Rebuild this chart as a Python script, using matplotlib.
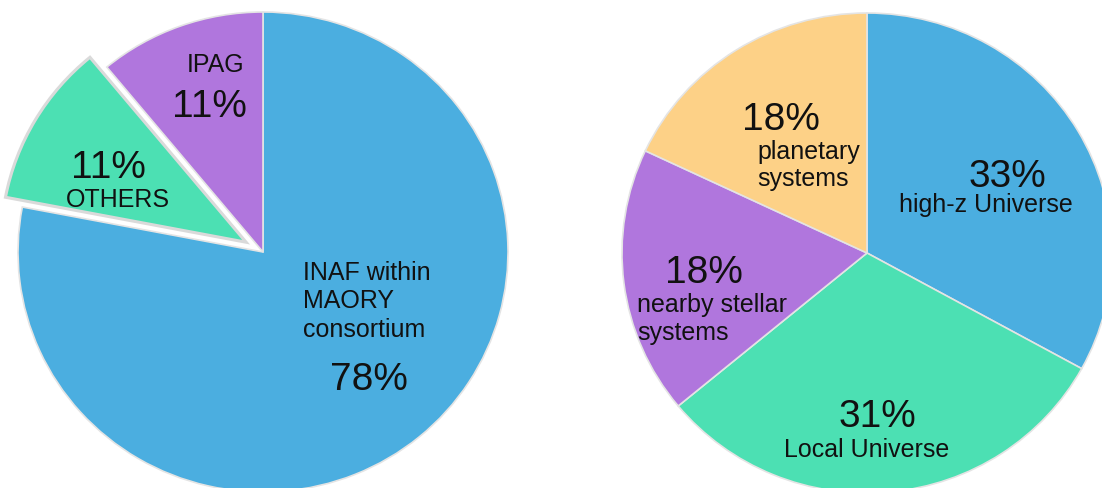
import matplotlib
matplotlib.use("Agg")
import matplotlib.pyplot as plt

# ---- data ----
left_labels = ["INAF within\nMAORY\nconsortium", "OTHERS", "IPAG"]
left_values = [78, 11, 11]
left_colors = ["#4BAEE0", "#4CE0B3", "#B076DD"]
left_explode = [0, 0.08, 0]

right_labels = ["high-z Universe", "Local Universe", "nearby stellar\nsystems", "planetary\nsystems"]
right_values = [33, 31, 18, 18]
right_colors = ["#4BAEE0", "#4CE0B3", "#B076DD", "#FDD187"]

W, H = 1102, 488
SY = 240 / 245.0  # slight vertical squeeze of the reference
fig = plt.figure(figsize=(W / 100, H / 100), dpi=100)
ax = fig.add_axes([0, 0, 1, 1])

FONT = "Liberation Sans"
TXT = "#111111"
LBL = 18
PCT = 28
R = 245

def py(y):
    return (H - y) / SY

# left pie
lw, _ = ax.pie(left_values, colors=left_colors,
               explode=[e * R for e in left_explode],
               startangle=90, counterclock=False,
               center=(263, py(252)), radius=R,
               wedgeprops=dict(edgecolor="#e4e4e4", linewidth=1.2))
lw[1].set_edgecolor("#dadada")
lw[1].set_linewidth(2.2)

# right pie
ax.pie(right_values, colors=right_colors,
       startangle=90, counterclock=False,
       center=(867, py(253)), radius=R,
       wedgeprops=dict(edgecolor="#e4e4e4", linewidth=1.2))

ax.set_aspect("auto")
ax.set_xlim(0, W)
ax.set_ylim(0, H / SY)
ax.axis("off")

def t(x, y, s, size, ha="center"):
    ax.text(x, py(y), s, fontsize=size, ha=ha, va="baseline",
            family=FONT, color=TXT)

# left texts
l0 = left_labels[0].split("\n")
t(303, 280, l0[0], LBL, "left")
t(303, 308, l0[1], LBL, "left")
t(303, 337, l0[2], LBL, "left")
t(369, 390, f"{left_values[0]}%", PCT)
t(118, 207, left_labels[1], LBL)
t(108, 178, f"{left_values[1]}%", PCT)
t(216, 72, left_labels[2], LBL)
t(209, 117, f"{left_values[2]}%", PCT)

# right texts
t(1007, 187, f"{right_values[0]}%", PCT)
t(986, 212, right_labels[0], LBL)
t(877, 427, f"{right_values[1]}%", PCT)
t(867, 457, right_labels[1], LBL)
t(704, 283, f"{right_values[2]}%", PCT)
r2 = right_labels[2].split("\n")
t(637, 312, r2[0], LBL, "left")
t(637, 340, r2[1], LBL, "left")
t(781, 130, f"{right_values[3]}%", PCT)
r3 = right_labels[3].split("\n")
t(757, 159, r3[0], LBL, "left")
t(757, 186, r3[1], LBL, "left")

fig.savefig("out.png", dpi=100)
